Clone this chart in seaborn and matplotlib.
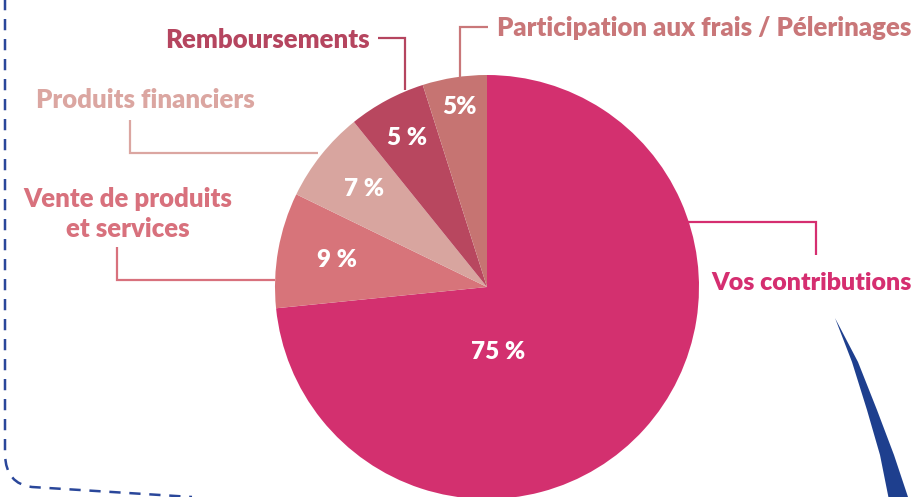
import numpy as np
import matplotlib
matplotlib.use("Agg")
import matplotlib.pyplot as plt
from matplotlib.path import Path
from matplotlib.patches import PathPatch, Polygon
import seaborn as sns

# ---- data ----
categories = ["Vos contributions", "Vente de produits\net services", "Produits financiers",
              "Remboursements", "Participation aux frais / Pélerinages"]
values = [73.4, 8.8, 7.0, 5.9, 4.9]          # slice sizes
pct_labels = ["75 %", "9 %", "7 %", "5 %", "5%"]
slice_colors = ["#D3306F", "#D7747A", "#D8A59F", "#B8475F", "#C67472"]
text_colors = ["#D52E70", "#D8717D", "#DBA6A1", "#B5455F", "#C97779"]

sns.set_theme(style="white")
plt.rcParams['font.family'] = ['Lato', 'DejaVu Sans']

W, H = 918, 497
fig = plt.figure(figsize=(W / 100, H / 100), dpi=100)
ax = fig.add_axes([0, 0, 1, 1])

def Y(y):
    return H - y

cx, cy, R = 487, Y(287), 212
wedges, _ = ax.pie(values, colors=slice_colors, startangle=90, counterclock=False,
                   center=(cx, cy), radius=R, wedgeprops=dict(linewidth=0),
                   frame=False)
ax.set_xlim(0, W)
ax.set_ylim(0, H)
ax.set_aspect('auto')
ax.axis('off')

FW = "heavy"

# percentage labels inside wedges
dist = [0.31, 0.72, 0.74, 0.80, 0.86]
ang_override = [-80, None, None, None, None]
for w, lab, d, ao in zip(wedges, pct_labels, dist, ang_override):
    a = ao if ao is not None else (w.theta1 + w.theta2) / 2
    x = cx + d * R * np.cos(np.radians(a))
    y = cy + d * R * np.sin(np.radians(a))
    ax.text(x, y, lab, color="white", fontsize=17.5, fontweight=FW,
            ha="center", va="center")

# leader lines (image coords)
lw = 1.6
leaders = [
    [(686, 222), (816, 222), (816, 255)],
    [(275, 280), (117, 280), (117, 247)],
    [(318, 153), (130, 153), (130, 120)],
    [(378, 38), (405, 38), (405, 90)],
    [(488, 27), (460, 27), (460, 78)],
]
for pts, c in zip(leaders, text_colors):
    xs = [p[0] for p in pts]
    ys = [Y(p[1]) for p in pts]
    ax.plot(xs, ys, color=c, lw=lw, solid_capstyle='butt', solid_joinstyle='miter')

# category labels
fs = 18.5
ax.text(711, Y(283), categories[0], color=text_colors[0], fontsize=18.0,
        fontweight=FW, ha="left", va="center")
ax.text(128, Y(214), categories[1], color=text_colors[1], fontsize=fs,
        fontweight=FW, ha="center", va="center", linespacing=1.32)
ax.text(145, Y(100), categories[2], color=text_colors[2], fontsize=fs,
        fontweight=FW, ha="center", va="center")
ax.text(370, Y(40), categories[3], color=text_colors[3], fontsize=fs,
        fontweight=FW, ha="right", va="center")
ax.text(497, Y(28), categories[4], color=text_colors[4], fontsize=fs,
        fontweight=FW, ha="left", va="center")

# dashed decorative border
blue = "#2A479A"
verts = [(5, Y(-5)), (5, Y(455)), (6, Y(484)), (32, Y(487)), (192, Y(497))]
codes = [Path.MOVETO, Path.LINETO, Path.CURVE3, Path.CURVE3, Path.LINETO]
ax.add_patch(PathPatch(Path(verts, codes), fill=False, edgecolor=blue, lw=1.8,
                       linestyle=(0, (4.5, 3.5))))

# blue swoosh
left = [(835, 318), (852, 362), (867, 410), (880, 455), (889, 500)]
right = [(909, 500), (894, 455), (877, 410), (858, 362), (835, 318)]
ax.add_patch(Polygon([(x, Y(y)) for x, y in left + right], closed=True,
                     facecolor="#1E3F8E", edgecolor="none"))

fig.savefig("out.png", dpi=100)
